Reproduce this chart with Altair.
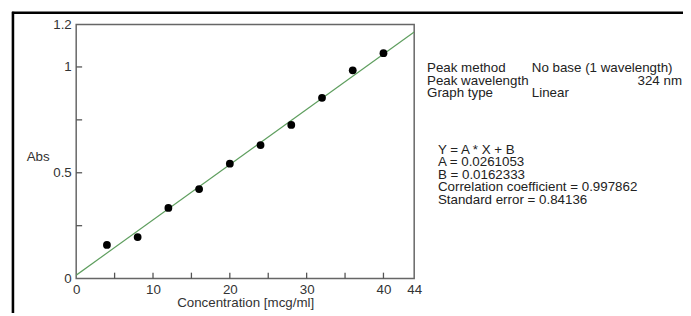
import altair as alt
import pandas as pd

# ---- data ----
conc = [4, 8, 12, 16, 20, 24, 28, 32, 36, 40]
absorb = [0.159, 0.196, 0.334, 0.423, 0.543, 0.631, 0.726, 0.854, 0.984, 1.065]
slope_A = 0.0261053
intercept_B = 0.0162333
x_domain = [0, 44]
y_domain = [0, 1.2]
x_tick_marks = [5, 10, 15, 20, 25, 30, 35, 40]
x_label_values = [0, 10, 20, 30, 40, 44]
y_tick_marks = [0.25, 0.5, 0.75, 1.0]
y_label_values = [0, 0.5, 1, 1.2]
info_keys = ["Peak method", "Peak wavelength", "Graph type"]
info_vals = ["No base (1 wavelength)", "", "Linear"]
info_wavelength = "324 nm"
eq_lines = [
    "Y = A * X + B",
    "A = 0.0261053",
    "B = 0.0162333",
    "Correlation coefficient = 0.997862",
    "Standard error = 0.84136",
]

FONT = "Liberation Sans"
W, H = 342, 257

pts = pd.DataFrame({"conc": conc, "abs": absorb})
fit = pd.DataFrame({"conc": x_domain,
                    "abs": [slope_A * v + intercept_B for v in x_domain]})

xscale = alt.Scale(domain=x_domain, nice=False, zero=False)
yscale = alt.Scale(domain=y_domain, nice=False, zero=False)

xaxis = alt.Axis(values=x_label_values, ticks=False, domain=False, grid=False,
                 format="~g",
                 labelFont=FONT, labelFontSize=13.5, labelColor="#333",
                 labelPadding=4, labelFlush=False, labelOverlap=False,
                 title="Concentration [mcg/ml]", titleFont=FONT, titleFontSize=13.5,
                 titleFontWeight="normal", titleColor="#333", titlePadding=0)
yaxis = alt.Axis(values=y_label_values, ticks=False, domain=False, grid=False,
                 format="~g",
                 labelFont=FONT, labelFontSize=13.5, labelColor="#333",
                 labelPadding=5, labelFlush=False, labelOverlap=False,
                 title="Abs", titleFont=FONT, titleFontSize=13.5,
                 titleFontWeight="normal", titleColor="#333", titleAngle=0,
                 titleX=-39, titleY=134, titleAlign="center", titleBaseline="middle")

line = alt.Chart(fit).mark_line(color="#5e9e5e", strokeWidth=1.2, clip=True).encode(
    x=alt.X("conc:Q", scale=xscale, axis=xaxis),
    y=alt.Y("abs:Q", scale=yscale, axis=yaxis),
)
dots = alt.Chart(pts).mark_circle(color="black", opacity=1, size=62).encode(
    x=alt.X("conc:Q", scale=xscale),
    y=alt.Y("abs:Q", scale=yscale),
)

xt = alt.Chart(pd.DataFrame({"v": x_tick_marks})).mark_rule(color="#555", strokeWidth=1.3).encode(
    x=alt.X("v:Q", scale=xscale), y=alt.value(H), y2=alt.value(H - 6))
yt = alt.Chart(pd.DataFrame({"v": y_tick_marks})).mark_rule(color="#555", strokeWidth=1.3).encode(
    y=alt.Y("v:Q", scale=yscale), x=alt.value(0), x2=alt.value(6))

# outer black frame (top and left edges visible)
frame_top = alt.Chart().mark_rule(color="black", strokeWidth=2.6).encode(
    x=alt.value(-65), x2=alt.value(640), y=alt.value(-12))
frame_left = alt.Chart().mark_rule(color="black", strokeWidth=2.6).encode(
    x=alt.value(-64), y=alt.value(-13), y2=alt.value(320))

texts = []
TS = 13.5
for i, k in enumerate(info_keys):
    texts.append(alt.Chart().mark_text(text=k, font=FONT, fontSize=TS, color="#222",
                                       align="left", baseline="middle").encode(
        x=alt.value(355), y=alt.value(44 + i * 12.8)))
    if info_vals[i]:
        texts.append(alt.Chart().mark_text(text=info_vals[i], font=FONT, fontSize=TS, color="#222",
                                           align="left", baseline="middle").encode(
            x=alt.value(461), y=alt.value(44 + i * 12.8)))
texts.append(alt.Chart().mark_text(text=info_wavelength, font=FONT, fontSize=TS, color="#222",
                                   align="right", baseline="middle").encode(
    x=alt.value(613), y=alt.value(44 + 12.8)))
for i, t in enumerate(eq_lines):
    texts.append(alt.Chart().mark_text(text=t, font=FONT, fontSize=TS, color="#222",
                                       align="left", baseline="middle").encode(
        x=alt.value(366), y=alt.value(126.6 + i * 12.75)))

chart = alt.layer(line, dots, xt, yt, frame_top, frame_left, *texts).properties(
    width=W, height=H,
    autosize=alt.AutoSizeParams(type="none"),
    padding={"left": 69, "top": 15, "right": 272, "bottom": 33},
    background="white",
).configure_view(stroke="#666", strokeWidth=1.5)

chart.save("out.html", embed_options={"renderer": "svg", "actions": False})
